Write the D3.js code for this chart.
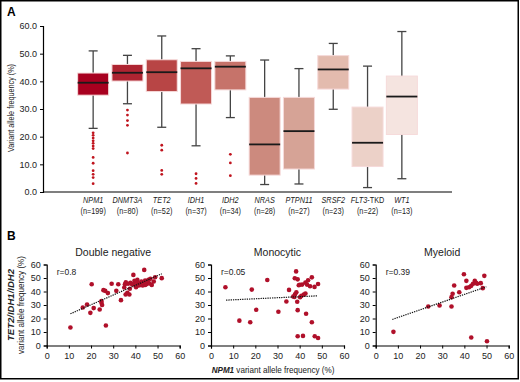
<!DOCTYPE html>
<html lang="en">
<head>
<meta charset="UTF-8">
<title>VAF chart</title>
<script src="https://d3js.org/d3.v7.min.js"></script>
<style>
  body { margin: 0; background: #fff; }
  svg { display: block; font-family: "Liberation Sans", Arial, sans-serif; }
  .tick text { font-size: 9px; fill: #222; }
</style>
</head>
<body>
<div id="chart"></div>
<script>
  // ---- panel A data ----
  const genes = ["NPM1", "DNMT3A", "TET2", "IDH1", "IDH2", "NRAS", "PTPN11", "SRSF2", "FLT3", "WT1"];
  const counts = [199, 80, 52, 37, 34, 28, 27, 23, 22, 13];
  const whiskerLow = [23.0, 31.9, 23.4, 16.7, 26.9, 2.7, 2.9, 29.9, 1.6, 4.8];
  const q1 = [35.0, 40.1, 36.3, 31.8, 36.9, 6.1, 8.3, 37.2, 9.2, 20.8];
  const medians = [39.5, 43.1, 43.3, 44.7, 45.3, 17.2, 22.0, 44.3, 17.8, 34.5];
  const q3 = [43.0, 46.1, 47.8, 47.2, 47.2, 34.2, 34.2, 49.3, 30.7, 41.9];
  const whiskerHigh = [51.0, 49.4, 56.4, 51.8, 49.2, 47.7, 44.6, 53.7, 45.5, 58.0];
  const outliers = [
    [21.4, 20.5, 19.5, 18.5, 17.6, 16.6, 15.7, 12.5, 10.4, 7.7, 6.4, 5.2, 3.0],
    [29.6, 27.8, 25.8, 24.1, 14.1],
    [16.9, 15.1, 7.8, 6.4],
    [6.6, 4.9, 3.1],
    [13.6, 10.5, 5.9],
    [], [], [], [], []
  ];
  const boxColors = ["#a8001f", "#ae2431", "#b84545", "#c05a56", "#c6736a", "#cc8a7e", "#d6a396", "#e3bbae", "#ecd1c8", "#f5e4e0"];
  const yTicksA = [0, 10, 20, 30, 40, 50, 60];

  // ---- panel B data ----
  const dnX = [10.7, 16.3, 18.2, 19.7, 21.2, 20.3, 23.9, 24.7, 25.0, 24.7, 26.4, 25.6, 26.7, 27.6, 29.3, 31.4, 32.3, 33.5, 35.0, 35.7, 35.6, 36.4, 37.3, 37.5, 37.8, 38.5, 39.1, 39.6, 40.3, 40.9, 41.2, 41.5, 42.2, 42.7, 43.3, 44.0, 44.0, 44.4, 45.0, 45.3, 45.9, 46.4, 46.8, 47.4, 48.3, 48.9, 51.9, 36.7, 39.3, 40.0, 35.3, 44.4];
  const dnY = [13.3, 28.1, 30.4, 24.2, 27.7, 45.4, 26.7, 31.6, 30.0, 33.0, 40.5, 41.0, 14.8, 38.8, 45.7, 40.5, 45.4, 33.6, 43.0, 46.9, 37.8, 39.0, 37.8, 42.0, 46.4, 45.4, 52.3, 48.0, 43.2, 48.6, 46.2, 44.4, 44.9, 47.4, 44.4, 56.0, 46.4, 48.1, 45.4, 47.4, 48.6, 45.9, 49.4, 44.9, 47.4, 50.6, 49.9, 45.7, 45.2, 47.4, 45.4, 44.9];
  const moX = [6.5, 12.8, 17.7, 18.4, 20.4, 25.4, 30.4, 34.0, 35.2, 37.1, 37.8, 38.4, 37.9, 38.5, 39.1, 38.9, 39.1, 39.1, 39.6, 40.2, 40.8, 41.1, 41.5, 41.9, 42.6, 42.6, 42.9, 43.3, 43.8, 44.7, 45.5, 45.5, 46.8, 46.7, 48.3, 48.3, 40.0, 37.6];
  const moY = [43.1, 18.4, 17.2, 41.4, 26.5, 48.5, 25.0, 32.6, 41.2, 36.3, 49.8, 54.9, 38.0, 39.5, 49.0, 32.4, 26.2, 6.9, 44.6, 35.8, 36.8, 45.1, 7.1, 37.7, 38.5, 46.6, 23.5, 45.1, 48.3, 43.9, 50.5, 17.2, 6.9, 43.4, 5.6, 45.6, 45.0, 36.0];
  const myX = [8.0, 23.7, 28.8, 34.2, 34.2, 34.7, 35.4, 37.7, 39.8, 40.9, 40.9, 42.1, 43.1, 43.1, 43.9, 44.7, 44.7, 45.8, 47.4, 48.3, 49.0, 50.2, 45.3];
  const myY = [10.1, 28.9, 29.6, 28.9, 35.8, 38.3, 44.4, 39.5, 52.8, 47.9, 42.7, 43.2, 5.9, 44.2, 45.7, 47.9, 46.4, 45.7, 46.2, 42.5, 51.6, 3.2, 46.4];
  const trendX = [[10.7, 51.9], [6.8, 48.2], [7.5, 49.9]];
  const trendY = [[23.5, 53.1], [33.6, 36.8], [19.3, 43.5]];
  const panelTitles = ["Double negative", "Monocytic", "Myeloid"];
  const rLabels = ["r=0.8", "r=0.05", "r=0.39"];
  const ticksB = [0, 10, 20, 30, 40, 50, 60];

  const width = 520, height = 382;
  const red = "#b0102a";

  const svg = d3.select("#chart").append("svg")
    .attr("width", width).attr("height", height);

  // outer frame
  svg.append("rect")
    .attr("x", 0.75).attr("y", 0.75)
    .attr("width", 517.5).attr("height", 378)
    .attr("fill", "none").attr("stroke", "#000").attr("stroke-width", 1.5);

  // ---------- Panel A ----------
  svg.append("text").attr("x", 7).attr("y", 16)
    .attr("font-weight", "bold").attr("font-size", 12).text("A");

  const x = d3.scaleBand().domain(genes).range([76, 419]).padding(0);
  const y = d3.scaleLinear().domain([0, 60]).range([192, 26]);
  const bw = 31;

  svg.append("g")
    .attr("transform", "translate(43,0)")
    .call(d3.axisLeft(y).tickValues(yTicksA).tickFormat(d3.format(".1f")).tickSize(3).tickPadding(3))
    .call(g => g.select(".domain").attr("stroke-width", 1.2));

  svg.append("line")
    .attr("x1", 43).attr("x2", 452).attr("y1", 192).attr("y2", 192)
    .attr("stroke", "#000").attr("stroke-width", 1.2);

  svg.append("text")
    .attr("transform", "translate(14,108) rotate(-90)")
    .attr("text-anchor", "middle").attr("font-size", 9.5).attr("fill", "#222")
    .attr("textLength", 88).attr("lengthAdjust", "spacingAndGlyphs")
    .text("Variant allele frequency (%)");

  genes.forEach((g, i) => {
    const cx = x(g) + x.bandwidth() / 2;
    const grp = svg.append("g");
    grp.append("line")
      .attr("x1", cx).attr("x2", cx)
      .attr("y1", y(whiskerLow[i])).attr("y2", y(whiskerHigh[i]))
      .attr("stroke", "#444").attr("stroke-width", 1.3);
    [whiskerLow[i], whiskerHigh[i]].forEach(v => {
      grp.append("line")
        .attr("x1", cx - 4.5).attr("x2", cx + 4.5)
        .attr("y1", y(v)).attr("y2", y(v))
        .attr("stroke", "#444").attr("stroke-width", 1.3);
    });
    grp.append("rect")
      .attr("x", cx - bw / 2).attr("y", y(q3[i]))
      .attr("width", bw).attr("height", y(q1[i]) - y(q3[i]))
      .attr("fill", boxColors[i])
      .attr("stroke", "#f6dada").attr("stroke-width", 1);
    grp.append("line")
      .attr("x1", cx - bw / 2).attr("x2", cx + bw / 2)
      .attr("y1", y(medians[i])).attr("y2", y(medians[i]))
      .attr("stroke", "#1a1a1a").attr("stroke-width", 1.8);
    grp.selectAll("circle").data(outliers[i]).join("circle")
      .attr("cx", cx).attr("cy", d => y(d)).attr("r", 1.4)
      .attr("fill", "#c0141e");

    // category label (condensed)
    const lab = svg.append("text")
      .attr("transform", `translate(${cx},203) scale(0.86,1)`)
      .attr("text-anchor", "middle").attr("font-size", 8.5).attr("fill", "#222");
    lab.append("tspan").attr("font-style", "italic").text(g);
    if (g === "FLT3") lab.append("tspan").text("-TKD");
    svg.append("text")
      .attr("transform", `translate(${cx},214) scale(0.86,1)`)
      .attr("text-anchor", "middle").attr("font-size", 8.5).attr("fill", "#222")
      .text(`(n=${counts[i]})`);
  });

  // ---------- Panel B ----------
  svg.append("text").attr("x", 7).attr("y", 240)
    .attr("font-weight", "bold").attr("font-size", 12).text("B");

  const panels = [
    { x0: 46.7, xs: dnX, ys: dnY },
    { x0: 211, xs: moX, ys: moY },
    { x0: 375.7, xs: myX, ys: myY }
  ];

  panels.forEach((p, k) => {
    const sx = d3.scaleLinear().domain([0, 60]).range([p.x0, p.x0 + 133]);
    const sy = d3.scaleLinear().domain([0, 60]).range([345.5, 264.5]);

    svg.append("g")
      .attr("transform", `translate(0,${sy(0)})`)
      .call(d3.axisBottom(sx).tickValues(ticksB).tickSize(3).tickPadding(4))
      .call(g => g.select(".domain").attr("stroke-width", 1.2));
    svg.append("g")
      .attr("transform", `translate(${sx(0)},0)`)
      .call(d3.axisLeft(sy).tickValues(ticksB).tickSize(3).tickPadding(3))
      .call(g => g.select(".domain").attr("stroke-width", 1.2));

    svg.append("g").selectAll("circle")
      .data(p.xs.map((v, i) => [v, p.ys[i]]))
      .join("circle")
      .attr("cx", d => sx(d[0])).attr("cy", d => sy(d[1]))
      .attr("r", 2.3).attr("fill", red);

    svg.append("line")
      .attr("x1", sx(trendX[k][0])).attr("y1", sy(trendY[k][0]))
      .attr("x2", sx(trendX[k][1])).attr("y2", sy(trendY[k][1]))
      .attr("stroke", "#111").attr("stroke-width", 1.2)
      .attr("stroke-dasharray", "1.3,1");

    svg.append("text")
      .attr("x", sx(30)).attr("y", 256)
      .attr("text-anchor", "middle").attr("font-size", 10.5).attr("fill", "#222")
      .text(panelTitles[k]);
    svg.append("text")
      .attr("x", sx(0) + 10).attr("y", 275)
      .attr("font-size", 8.5).attr("fill", "#222")
      .text(rLabels[k]);
  });

  // panel B axis labels
  svg.append("text")
    .attr("transform", "translate(14,305) rotate(-90)")
    .attr("text-anchor", "middle").attr("font-size", 9).attr("fill", "#222")
    .attr("font-style", "italic").attr("font-weight", "bold")
    .attr("textLength", 72).attr("lengthAdjust", "spacingAndGlyphs")
    .text("TET2/IDH1/IDH2");
  svg.append("text")
    .attr("transform", "translate(24,305) rotate(-90)")
    .attr("text-anchor", "middle").attr("font-size", 9).attr("fill", "#222")
    .attr("textLength", 98).attr("lengthAdjust", "spacingAndGlyphs")
    .text("variant allele frequency (%)");

  const xl = svg.append("text")
    .attr("transform", "translate(273,373) scale(0.9,1)")
    .attr("text-anchor", "middle").attr("font-size", 9).attr("fill", "#222");
  xl.append("tspan").attr("font-style", "italic").attr("font-weight", "bold").text("NPM1");
  xl.append("tspan").text(" variant allele frequency (%)");
</script>
</body>
</html>
